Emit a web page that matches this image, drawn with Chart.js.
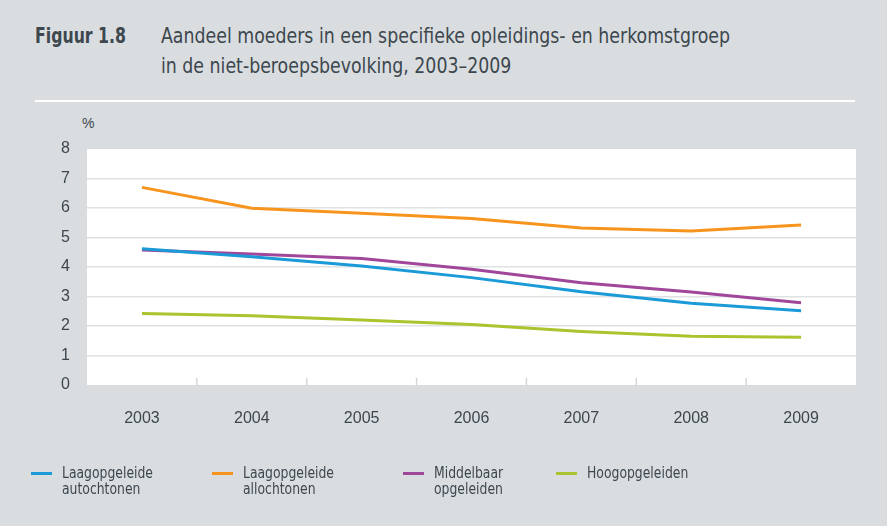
<!DOCTYPE html>
<html><head><meta charset="utf-8">
<script src="https://cdn.jsdelivr.net/npm/chart.js@4.4.1/dist/chart.umd.min.js"></script>
<style>
html,body{margin:0;padding:0;}
body{width:887px;height:526px;background:#d9dde0;position:relative;overflow:hidden;font-family:"DejaVu Sans Condensed","Liberation Sans",sans-serif;font-stretch:condensed;color:#3d474e;}
#wrap{position:absolute;left:0;top:0;width:887px;height:526px;}
.t{position:absolute;font-size:21px;line-height:30px;white-space:nowrap;transform-origin:0 0;}
.t span{display:inline-block;}
#fig{left:35px;top:21px;font-weight:bold;}
#tt{left:161px;top:21px;}
#rule{position:absolute;left:35px;top:100px;width:820px;height:2px;background:#fff;}
#pct{position:absolute;left:82px;top:115px;font-family:"Liberation Sans",Arial,sans-serif;font-size:14px;}
.lg{position:absolute;top:465px;font-size:16px;line-height:16px;white-space:nowrap;}
.lg i{position:absolute;left:-31px;top:7px;width:21px;height:3px;}
.lg span{display:inline-block;transform-origin:0 0;}
</style></head>
<body>
<div class="t" id="fig"><span id="figs">Figuur 1.8</span></div>
<div class="t" id="tt"><span id="t1">Aandeel moeders in een specifieke opleidings- en herkomstgroep</span><br><span id="t2">in de niet-beroepsbevolking, 2003–2009</span></div>
<div id="rule"></div>
<div id="pct">%</div>
<div id="wrap"><canvas id="c" width="887" height="526"></canvas></div>
<div id="legend"></div>
<script>
const years = ["2003","2004","2005","2006","2007","2008","2009"];
const laagAutochtoon = [4.62, 4.35, 4.03, 3.64, 3.16, 2.77, 2.52];
const laagAllochtoon = [6.70, 5.99, 5.82, 5.64, 5.32, 5.22, 5.42];
const middelbaar = [4.58, 4.44, 4.29, 3.92, 3.47, 3.15, 2.79];
const hoog = [2.42, 2.35, 2.20, 2.05, 1.81, 1.65, 1.62];
const seriesNames = [["Laagopgeleide","autochtonen"],["Laagopgeleide","allochtonen"],["Middelbaar","opgeleiden"],["Hoogopgeleiden"]];
const colors = ["#1a9ad7","#f7941e","#a1479b","#a9c42d"];
const legendX = [62, 243, 434, 587];

const seriesData = [laagAutochtoon, laagAllochtoon, middelbaar, hoog];

// fit condensed text widths to the reference
function fit(el, target){ const w=el.getBoundingClientRect().width; el.style.transformOrigin='0 0'; el.style.transform='scaleX('+(target/w)+')'; return target/w; }
fit(document.getElementById('figs'), 91);
const k = fit(document.getElementById('t1'), 569);
document.getElementById('t2').style.transformOrigin='0 0';
document.getElementById('t2').style.transform='scaleX('+k+')';

const lg = document.getElementById('legend');
const legendSpans=[];
seriesNames.forEach((n,i)=>{
  const d=document.createElement('div');d.className='lg';d.style.left=legendX[i]+'px';
  d.innerHTML='<i style="background:'+colors[i]+'"></i><span>'+n.join('<br>')+'</span>';
  lg.appendChild(d);legendSpans.push(d.querySelector('span'));
});
const probe=document.createElement('span');probe.style.cssText='position:absolute;visibility:hidden;font-size:16px;white-space:nowrap;';probe.textContent='Laagopgeleide';document.body.appendChild(probe);
const lk=91/probe.getBoundingClientRect().width;probe.remove();
legendSpans.forEach(s=>s.style.transform='scaleX('+lk+')');

const bgPlugin = {
  id:'bg',
  beforeDraw(chart){
    const {ctx,chartArea:a}=chart;
    ctx.save();ctx.fillStyle='#ffffff';ctx.fillRect(a.left,a.top,a.right-a.left,a.bottom-a.top);ctx.restore();
  },
  beforeDatasetsDraw(chart){
    const {ctx,chartArea:a,scales:{x}}=chart;
    ctx.save();ctx.strokeStyle='#d4d7da';ctx.lineWidth=1.5;
    for(let i=1;i<years.length;i++){
      const px=(x.getPixelForValue(i-1)+x.getPixelForValue(i))/2;
      ctx.beginPath();ctx.moveTo(px,a.bottom-7);ctx.lineTo(px,a.bottom);ctx.stroke();
    }
    ctx.restore();
  }
};

new Chart(document.getElementById('c'),{
  type:'line',
  data:{labels:years,datasets:seriesData.map((d,i)=>({label:seriesNames[i].join(' '),data:d,borderColor:colors[i],backgroundColor:colors[i],borderWidth:3,pointRadius:0,tension:0,fill:false}))},
  options:{
    responsive:false,animation:false,
    layout:{padding:{top:149,right:31,bottom:101,left:0}},
    plugins:{legend:{display:false},tooltip:{enabled:false}},
    scales:{
      x:{offset:true,grid:{display:false},border:{display:false},
         ticks:{color:'#3d474e',font:{family:'"Liberation Sans",Arial,sans-serif',size:16},padding:16},
         afterFit(s){s.height=40;}},
      y:{min:0,max:8,border:{display:false},
         grid:{drawTicks:false,lineWidth:1.5,color:(c)=>(c.tick&&(c.tick.value===0||c.tick.value===8))?'rgba(0,0,0,0)':'#dfe1e4'},
         ticks:{stepSize:1,color:'#3d474e',font:{family:'"Liberation Sans",Arial,sans-serif',size:16},padding:17},
         afterFit(s){s.width=87;}}
    }
  },
  plugins:[bgPlugin]
});
</script>
</body></html>
